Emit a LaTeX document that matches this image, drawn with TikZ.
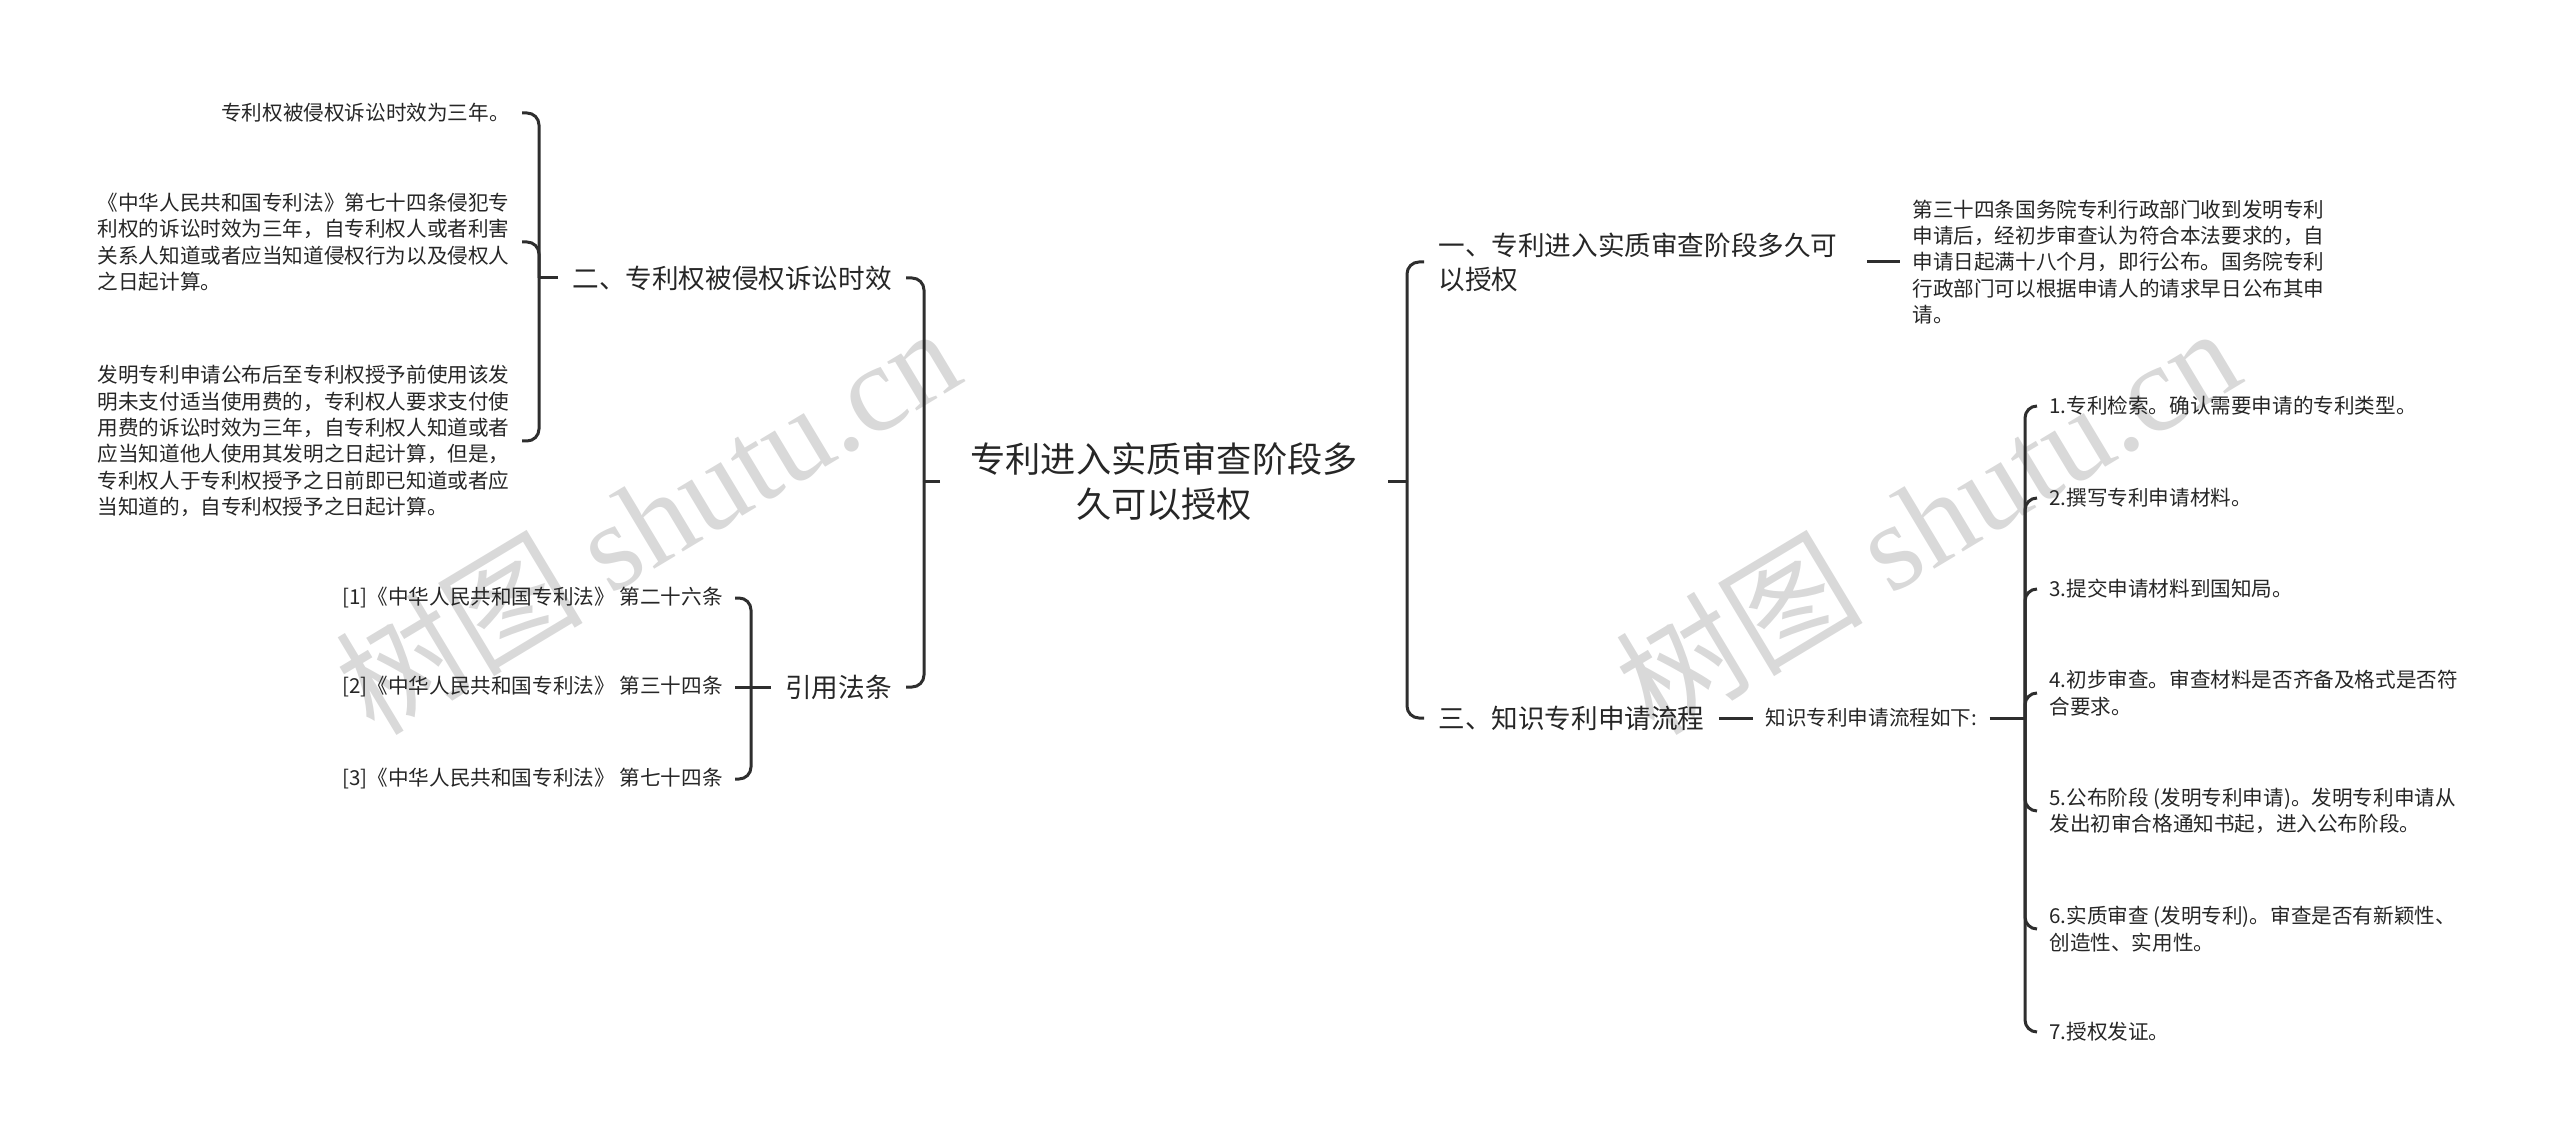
\documentclass[tikz,border=0pt]{standalone}
\usepackage{fontspec}
\setmainfont{Noto Sans CJK SC}
\newfontfamily\wmserif{Liberation Serif}
\definecolor{ln}{HTML}{2E2E2E}
\definecolor{tx}{HTML}{262626}
\definecolor{wmc}{HTML}{D9D9D9}
\tikzset{
  conn/.style={draw=ln, line width=1.5pt},
  brk/.style={conn, rounded corners=6pt},
  rootnode/.style={font=\fontsize{17.6pt}{22.5pt}\selectfont, align=center, inner xsep=15pt, inner ysep=4pt, text=tx},
  lvone/.style={font=\fontsize{13.3pt}{17pt}\selectfont, inner xsep=7pt, inner ysep=3pt, text=tx},
  leaf/.style={font=\fontsize{10.3pt}{13.2pt}\selectfont, inner xsep=6pt, inner ysep=3pt, text=tx, align=left},
  wmark/.style={text=wmc, font=\fontsize{62pt}{62pt}\selectfont, rotate=31, inner sep=0pt},
}
\begin{document}
\begin{tikzpicture}[x=0.5pt,y=-0.5pt]
\useasboundingbox (0,0) rectangle (2560,1144);
% watermarks
\node[wmark] (wmA) at (647,519) {树图 {\wmserif shutu.cn}};
\node[wmark] (wmB) at (1927,519) {树图 {\wmserif shutu.cn}};
% bracket x positions
\coordinate (xL) at (924,0);
\coordinate (xR) at (1407,0);
\coordinate (xB) at (539,0);
\coordinate (xC) at (751,0);
\coordinate (xF) at (2025,0);
% root
\node[rootnode] (root) at (1164,482) {专利进入实质审查阶段多\\久可以授权};
% level one
\node[lvone, anchor=east] (b2) at (906,278) {二、专利权被侵权诉讼时效};
\node[lvone, anchor=east] (cite) at (906,687) {引用法条};
\node[lvone, anchor=west, text width=207pt, align=left] (b1) at (1424,262) {一、专利进入实质审查阶段多久可\\以授权};
\node[lvone, anchor=west] (b3) at (1424,718) {三、知识专利申请流程};
% left leaves
\node[leaf, anchor=east] (l1) at (522,113) {专利权被侵权诉讼时效为三年。};
\node[leaf, anchor=east] (l2) at (522,242) {《中华人民共和国专利法》第七十四条侵犯专\\利权的诉讼时效为三年，自专利权人或者利害\\关系人知道或者应当知道侵权行为以及侵权人\\之日起计算。};
\node[leaf, anchor=east] (l3) at (522,441) {发明专利申请公布后至专利权授予前使用该发\\明未支付适当使用费的，专利权人要求支付使\\用费的诉讼时效为三年，自专利权人知道或者\\应当知道他人使用其发明之日起计算，但是，\\专利权人于专利权授予之日前即已知道或者应\\当知道的，自专利权授予之日起计算。};
\node[leaf, anchor=east] (r1) at (735,598) {[1]《中华人民共和国专利法》 第二十六条};
\node[leaf, anchor=east] (r2) at (735,687) {[2]《中华人民共和国专利法》 第三十四条};
\node[leaf, anchor=east] (r3) at (735,779) {[3]《中华人民共和国专利法》 第七十四条};
% right leaves
\node[leaf, anchor=west] (p1) at (1900,262) {第三十四条国务院专利行政部门收到发明专利\\申请后，经初步审查认为符合本法要求的，自\\申请日起满十八个月，即行公布。国务院专利\\行政部门可以根据申请人的请求早日公布其申\\请。};
\node[leaf, anchor=west] (flow) at (1753,718) {知识专利申请流程如下:};
\node[leaf, anchor=west] (s1) at (2037,406) {1.专利检索。确认需要申请的专利类型。};
\node[leaf, anchor=west] (s2) at (2037,498) {2.撰写专利申请材料。};
\node[leaf, anchor=west] (s3) at (2037,589) {3.提交申请材料到国知局。};
\node[leaf, anchor=west] (s4) at (2037,693) {4.初步审查。审查材料是否齐备及格式是否符\\合要求。};
\node[leaf, anchor=west] (s5) at (2037,811) {5.公布阶段 (发明专利申请)。发明专利申请从\\发出初审合格通知书起，进入公布阶段。};
\node[leaf, anchor=west] (s6) at (2037,929) {6.实质审查 (发明专利)。审查是否有新颖性、\\创造性、实用性。};
\node[leaf, anchor=west] (s7) at (2037,1032) {7.授权发证。};
% root connectors
\draw[conn] (root.west) -- (root.west -| xL);
\draw[brk] (root.west -| xL) |- (b2.east);
\draw[brk] (root.west -| xL) |- (cite.east);
\draw[conn] (root.east) -- (root.east -| xR);
\draw[brk] (root.east -| xR) |- (b1.west);
\draw[brk] (root.east -| xR) |- (b3.west);
% b2 group
\draw[conn] (b2.west) -- (b2.west -| xB);
\draw[brk] (b2.west -| xB) |- (l1.east);
\draw[brk] (b2.west -| xB) |- (l2.east);
\draw[brk] (b2.west -| xB) |- (l3.east);
% cite group
\draw[conn] (cite.west) -- (r2.east);
\draw[brk] (cite.west -| xC) |- (r1.east);
\draw[brk] (cite.west -| xC) |- (r3.east);
% right groups
\draw[conn] (b1.east) -- (p1.west);
\draw[conn] (b3.east) -- (flow.west);
\draw[conn] (flow.east) -- (flow.east -| xF);
\foreach \s in {s1,s2,s3,s4,s5,s6,s7}{
  \draw[brk] (flow.east -| xF) |- (\s.west);
}
\end{tikzpicture}
\end{document}
